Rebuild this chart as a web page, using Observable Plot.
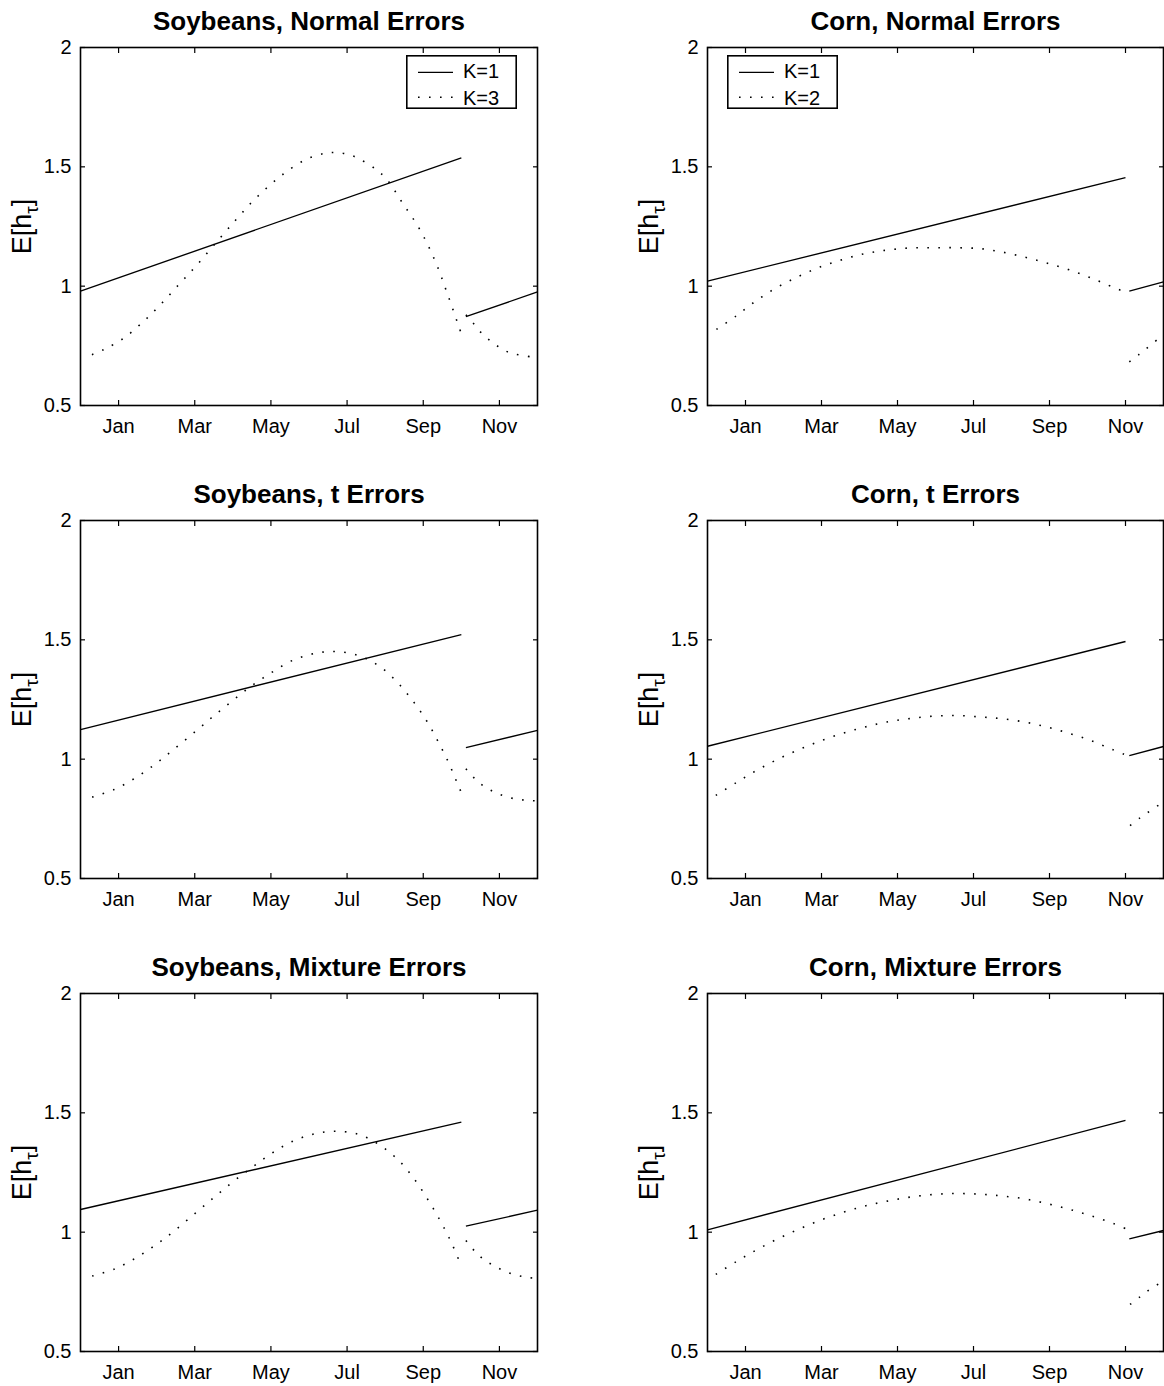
<!DOCTYPE html>
<html><head><meta charset="utf-8">
<script src="https://cdn.jsdelivr.net/npm/d3@7"></script>
<script src="https://cdn.jsdelivr.net/npm/@observablehq/plot@0.6"></script>
<style>
html,body{margin:0;padding:0;background:#fff;overflow:hidden;}
#fig{position:relative;width:1164px;height:1386px;overflow:hidden;background:#fff;}
.panel{position:absolute;}
.legend{position:absolute;}
</style></head><body><div id="fig"></div>
<script>
// ---- axis ticks / labels ----
const monthTicks = [1, 3, 5, 7, 9, 11];
const monthLabels = ["Jan", "Mar", "May", "Jul", "Sep", "Nov"];
const yTicks = [0.5, 1, 1.5, 2];
const yTickLabels = ["0.5", "1", "1.5", "2"];
const yLabel = "E[hτ]";

const titles = [
  "Soybeans, Normal Errors", "Corn, Normal Errors",
  "Soybeans, t Errors", "Corn, t Errors",
  "Soybeans, Mixture Errors", "Corn, Mixture Errors"
];
const soyLegend = ["K=1", "K=3"];
const cornLegend = ["K=1", "K=2"];

// ---- data: [segment, month, E[h]] ----
const soyNormalK1 = [[1, 0, 0.979], [1, 10, 1.538], [2, 10.12, 0.872], [2, 12, 0.976]];
const soyNormalK3 = [
  [1, 0.3, 0.713], [1, 0.62, 0.735], [1, 1.15, 0.784], [1, 1.64, 0.850], [1, 2.09, 0.921],
  [1, 2.6, 1.010], [1, 3.07, 1.091], [1, 3.6, 1.190], [1, 4.07, 1.276], [1, 4.5, 1.352],
  [1, 4.95, 1.420], [1, 5.41, 1.480], [1, 5.93, 1.532], [1, 6.4, 1.556], [1, 6.68, 1.560],
  [1, 7.0, 1.553], [1, 7.29, 1.536], [1, 7.75, 1.490], [1, 8.04, 1.448], [1, 8.45, 1.350],
  [1, 8.9, 1.240], [1, 9.3, 1.110], [1, 9.63, 0.970], [1, 10, 0.800],
  [2, 10.12, 0.880], [2, 10.3, 0.847], [2, 10.52, 0.805], [2, 10.77, 0.770], [2, 11.02, 0.742],
  [2, 11.27, 0.721], [2, 11.55, 0.711], [2, 11.88, 0.703], [2, 12, 0.702]
];

const soyTK1 = [[1, 0, 1.124], [1, 10, 1.522], [2, 10.12, 1.048], [2, 12, 1.121]];
const soyTK3 = [
  [1, 0.306, 0.841], [1, 0.884, 0.873], [1, 1.427, 0.920], [1, 1.952, 0.978], [1, 2.434, 1.039],
  [1, 3.046, 1.120], [1, 3.519, 1.184], [1, 4.009, 1.247], [1, 4.49, 1.307], [1, 5.016, 1.363],
  [1, 5.558, 1.413], [1, 6.145, 1.443], [1, 6.714, 1.451], [1, 7.318, 1.433], [1, 7.861, 1.388],
  [1, 8.333, 1.320], [1, 8.736, 1.242], [1, 9.095, 1.159], [1, 9.393, 1.073], [1, 9.673, 0.983],
  [1, 9.918, 0.890], [1, 10, 0.860],
  [2, 10.12, 0.960], [2, 10.355, 0.918], [2, 10.59, 0.887], [2, 10.87, 0.862], [2, 11.16, 0.844],
  [2, 11.47, 0.832], [2, 11.77, 0.827], [2, 12, 0.825]
];

const soyMixK1 = [[1, 0, 1.095], [1, 10, 1.461], [2, 10.12, 1.025], [2, 12, 1.092]];
const soyMixK3 = [
  [1, 0.306, 0.816], [1, 0.901, 0.846], [1, 1.453, 0.892], [1, 1.987, 0.948], [1, 2.477, 1.007],
  [1, 3.046, 1.084], [1, 3.528, 1.149], [1, 4.009, 1.212], [1, 4.508, 1.272], [1, 5.016, 1.330],
  [1, 5.558, 1.380], [1, 6.145, 1.412], [1, 6.714, 1.423], [1, 7.318, 1.409], [1, 7.878, 1.363],
  [1, 8.359, 1.300], [1, 8.753, 1.225], [1, 9.1, 1.142], [1, 9.428, 1.053], [1, 9.716, 0.964],
  [1, 9.961, 0.874], [1, 10, 0.860],
  [2, 10.12, 0.965], [2, 10.355, 0.920], [2, 10.59, 0.885], [2, 10.85, 0.860], [2, 11.13, 0.837],
  [2, 11.42, 0.821], [2, 11.71, 0.811], [2, 12, 0.806]
];

const cornNormalK1 = [[1, 0, 1.021], [1, 11, 1.455], [2, 11.1, 0.979], [2, 12, 1.018]];
const cornNormalK2 = [
  [1, 0.235, 0.819], [1, 0.754, 0.875], [1, 1.274, 0.938], [1, 1.822, 0.994], [1, 2.388, 1.040],
  [1, 2.955, 1.080], [1, 3.54, 1.111], [1, 4.135, 1.136], [1, 4.72, 1.151], [1, 5.334, 1.160],
  [1, 5.958, 1.161], [1, 6.562, 1.161], [1, 7.185, 1.157], [1, 7.752, 1.143], [1, 8.337, 1.122],
  [1, 8.904, 1.098], [1, 9.49, 1.070], [1, 10.084, 1.035], [1, 10.698, 0.994], [1, 11.0, 0.975],
  [2, 11.1, 0.683], [2, 11.359, 0.714], [2, 11.614, 0.747], [2, 11.878, 0.781], [2, 12, 0.795]
];

const cornTK1 = [[1, 0, 1.054], [1, 11, 1.493], [2, 11.1, 1.015], [2, 12, 1.053]];
const cornTK2 = [
  [1, 0.218, 0.848], [1, 0.760, 0.902], [1, 1.294, 0.953], [1, 1.854, 1.000], [1, 2.423, 1.041],
  [1, 3.0, 1.078], [1, 3.569, 1.109], [1, 4.129, 1.134], [1, 4.724, 1.156], [1, 5.318, 1.170],
  [1, 5.931, 1.180], [1, 6.561, 1.183], [1, 7.173, 1.177], [1, 7.724, 1.170], [1, 8.328, 1.156],
  [1, 8.923, 1.135], [1, 9.518, 1.108], [1, 10.104, 1.077], [1, 10.673, 1.039], [1, 11.0, 1.018],
  [2, 11.12, 0.722], [2, 11.373, 0.753], [2, 11.635, 0.782], [2, 11.898, 0.810], [2, 12, 0.820]
];

const cornMixK1 = [[1, 0, 1.010], [1, 11, 1.468], [2, 11.1, 0.972], [2, 12, 1.007]];
const cornMixK2 = [
  [1, 0.218, 0.823], [1, 0.760, 0.877], [1, 1.294, 0.926], [1, 1.863, 0.973], [1, 2.423, 1.014],
  [1, 3.0, 1.052], [1, 3.586, 1.084], [1, 4.129, 1.109], [1, 4.724, 1.130], [1, 5.336, 1.147],
  [1, 5.949, 1.158], [1, 6.561, 1.162], [1, 7.173, 1.159], [1, 7.724, 1.152], [1, 8.328, 1.140],
  [1, 8.923, 1.120], [1, 9.518, 1.096], [1, 10.104, 1.068], [1, 10.717, 1.034], [1, 11.0, 1.015],
  [2, 11.12, 0.697], [2, 11.373, 0.728], [2, 11.635, 0.760], [2, 11.898, 0.786], [2, 12, 0.797]
];

// ---- drawing ----
const FONT = '"Liberation Sans", Arial, Helvetica, sans-serif';
const fig = document.getElementById("fig");
const toRows = a => a.map(([seg, m, v]) => ({seg, m, v}));

const panels = [
  {title: titles[0], k1: soyNormalK1, kd: soyNormalK3, col: 0, row: 0, legend: soyLegend},
  {title: titles[1], k1: cornNormalK1, kd: cornNormalK2, col: 1, row: 0, legend: cornLegend},
  {title: titles[2], k1: soyTK1, kd: soyTK3, col: 0, row: 1},
  {title: titles[3], k1: cornTK1, kd: cornTK2, col: 1, row: 1},
  {title: titles[4], k1: soyMixK1, kd: soyMixK3, col: 0, row: 2},
  {title: titles[5], k1: cornMixK1, kd: cornMixK2, col: 1, row: 2}
];

const ROW_H = 473, PANEL_W = 582;

for (const p of panels) {
  const H = p.row === 2 ? 1386 - 2 * ROW_H : ROW_H;
  const marginLeft = p.col === 0 ? 80 : 125;
  const marginRight = p.col === 0 ? 45 : 1;
  const chart = Plot.plot({
    width: PANEL_W, height: H,
    marginTop: 47, marginBottom: H - 405, marginLeft, marginRight,
    style: {fontFamily: FONT, fontSize: "20px", color: "#000", background: "transparent", overflow: "visible"},
    x: {domain: [0, 12]},
    y: {domain: [0.5, 2]},
    marks: [
      Plot.line(toRows(p.k1), {x: "m", y: "v", z: "seg", stroke: "#000", strokeWidth: 1.35, strokeLinecap: "butt"}),
      Plot.line(toRows(p.kd), {x: "m", y: "v", z: "seg", stroke: "#000", strokeWidth: 1.6,
        strokeDasharray: "1.6,9.4", strokeLinecap: "butt", curve: "catmull-rom"}),
      Plot.axisX({ticks: monthTicks, tickFormat: d => monthLabels[monthTicks.indexOf(d)], tickSize: -5, tickPadding: 18, label: null, strokeWidth: 1.2}),
      Plot.axisX({anchor: "top", ticks: monthTicks, tickFormat: () => "", tickSize: -5, label: null, strokeWidth: 1.2}),
      Plot.axisY({ticks: yTicks, tickFormat: d => yTickLabels[yTicks.indexOf(d)], tickSize: -5, tickPadding: 14, label: null, strokeWidth: 1.2}),
      Plot.axisY({anchor: "right", ticks: yTicks, tickFormat: () => "", tickSize: -5, label: null, strokeWidth: 1.2}),
      Plot.frame({stroke: "#000", strokeWidth: 1.6}),
      Plot.text([p.title], {text: d => d, frameAnchor: "top", lineAnchor: "bottom", dy: -18, fontSize: 26, fontWeight: "bold", fill: "#000"}),
      Plot.text([yLabel], {text: d => d, frameAnchor: "left", textAnchor: "middle", rotate: -90, lineAnchor: "bottom", dx: -50, fontSize: 27, fill: "#000"})
    ]
  });
  // subscript tau in the y label
  chart.querySelectorAll("text").forEach(el => {
    if (el.textContent === yLabel) {
      const s = d3.select(el);
      s.text(null);
      s.append("tspan").text("E[h");
      s.append("tspan").attr("font-size", 19).attr("dy", 7).text("τ");
      s.append("tspan").attr("font-size", 27).attr("dy", -7).text("]");
    }
  });
  chart.classList.add("panel");
  chart.style.left = (p.col * PANEL_W) + "px";
  chart.style.top = (p.row * ROW_H) + "px";
  fig.appendChild(chart);

  if (p.legend) {
    const lw = 111, lh = 54;
    const left = p.col === 0 ? 537 - 20 - lw : 707 + 20;
    const top = 55;
    const svg = d3.create("svg").attr("class", "legend").attr("width", lw).attr("height", lh)
      .style("left", left + "px").style("top", top + "px").style("font-family", FONT);
    svg.append("rect").attr("x", 0.8).attr("y", 0.8).attr("width", lw - 1.6).attr("height", lh - 1.6)
      .attr("fill", "#fff").attr("stroke", "#000").attr("stroke-width", 1.6);
    svg.append("line").attr("x1", 12).attr("x2", 47).attr("y1", 17.3).attr("y2", 17.3)
      .attr("stroke", "#000").attr("stroke-width", 1.35);
    svg.append("line").attr("x1", 12).attr("x2", 47).attr("y1", 42.3).attr("y2", 42.3)
      .attr("stroke", "#000").attr("stroke-width", 1.6).attr("stroke-dasharray", "1.6,9.4");
    svg.append("text").attr("x", 57).attr("y", 22.5).attr("font-size", 20).text(p.legend[0]);
    svg.append("text").attr("x", 57).attr("y", 49.5).attr("font-size", 20).text(p.legend[1]);
    fig.appendChild(svg.node());
  }
}
</script></body></html>
